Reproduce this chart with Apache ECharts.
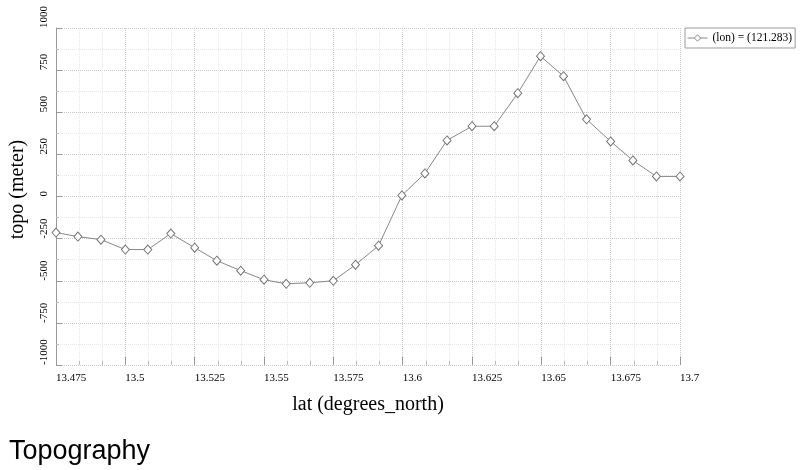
<!DOCTYPE html>
<html><head><meta charset="utf-8">
<script src="https://cdn.jsdelivr.net/npm/echarts@6/dist/echarts.min.js"></script>
<style>html,body{margin:0;padding:0;background:#fff}#c{width:800px;height:470px}</style>
</head><body><div id="c"></div>
<script>
const lat = [13.475,13.4829,13.4912,13.5,13.5081,13.5164,13.525,13.533,13.5416,13.55,13.558,13.5665,13.575,13.583,13.5913,13.5997,13.608,13.616,13.625,13.633,13.6415,13.6497,13.658,13.6663,13.675,13.683,13.6915,13.7];
const topo = [-214,-238,-256,-315,-315,-220,-304,-381,-440,-494,-518,-512,-500,-405,-292,6,137,333,417,417,613,833,714,458,327,214,119,119];
const seriesName = '(lon) = (121.283)';
const xTicks = [13.475,13.5,13.525,13.55,13.575,13.6,13.625,13.65,13.675,13.7];
const yTicks = [-1000,-750,-500,-250,0,250,500,750,1000];

const chart = echarts.init(document.getElementById('c'), null, {renderer:'canvas'});
const serif = 'Liberation Serif';
chart.setOption({
  animation:false,
  backgroundColor:'#fff',
  title:{text:'Topography', left:4, top:433, textStyle:{fontFamily:'Liberation Sans', fontSize:27, fontWeight:'normal', color:'#000'}},
  legend:{left:685, top:28, padding:[4,3,4,2], itemWidth:20, itemHeight:8, itemGap:4, borderColor:'#999', borderWidth:1,
    lineStyle:{width:1, color:'#888'},
    itemStyle:{color:'#fff', borderColor:'#888', borderWidth:1},
    textStyle:{fontFamily:serif, fontSize:11.5, color:'#000'}, data:[seriesName]},
  grid:{left:55, right:120, top:28, bottom:105},
  xAxis:{type:'value', min:13.475, max:13.7, interval:0.025,
    name:'lat (degrees_north)', nameLocation:'middle', nameGap:30,
    nameTextStyle:{fontFamily:serif, fontSize:20, color:'#000'},
    axisLine:{show:false, onZero:false},
    axisTick:{show:true, inside:true, length:8, lineStyle:{color:'#999'}},
    minorTick:{show:true, splitNumber:3, length:4, lineStyle:{color:'#bbb'}},
    axisLabel:{align:'left', margin:8, fontFamily:serif, fontSize:11, color:'#000',
      formatter:v=>{const t=xTicks.find(x=>Math.abs(x-v)<1e-6); return t===undefined?'':String(t);}},
    splitLine:{show:true, lineStyle:{type:'dotted', color:'#c8c8c8'}},
    minorSplitLine:{show:true, lineStyle:{type:'dotted', color:'#e6e6e6'}}
  },
  yAxis:{type:'value', min:-1000, max:1000, interval:250,
    name:'topo (meter)', nameLocation:'middle', nameGap:28, nameRotate:90,
    nameTextStyle:{fontFamily:serif, fontSize:20, color:'#000', padding:[0,0,0,14]},
    axisLine:{show:true, onZero:false, lineStyle:{color:'#999'}},
    axisTick:{show:true, inside:true, length:6, lineStyle:{color:'#999'}},
    minorTick:{show:true, splitNumber:2, length:3, lineStyle:{color:'#bbb'}},
    axisLabel:{rotate:90, align:'left', verticalAlign:'bottom', margin:6, fontFamily:serif, fontSize:11, color:'#000',
      formatter:v=>{const t=yTicks.find(x=>Math.abs(x-v)<1e-6); return t===undefined?'':String(t);}},
    splitLine:{show:true, lineStyle:{type:'dotted', color:'#c8c8c8'}},
    minorSplitLine:{show:true, lineStyle:{type:'dotted', color:'#e6e6e6'}}
  },
  series:[{
    name:seriesName, type:'line', data:lat.map((x,i)=>[x,topo[i]]),
    symbol:'diamond', symbolSize:[8,9], showAllSymbol:true,
    lineStyle:{color:'#888', width:1},
    itemStyle:{color:'#fff', borderColor:'#777', borderWidth:1}
  }]
});
</script></body></html>
